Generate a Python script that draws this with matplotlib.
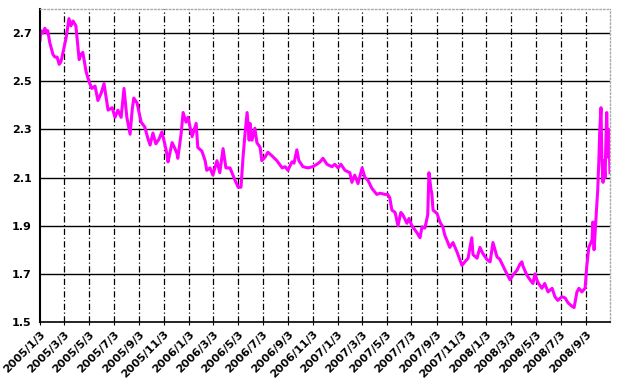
import numpy as np
import pandas as pd
import matplotlib
matplotlib.use("Agg")
import matplotlib.pyplot as plt
import matplotlib.dates as mdates

# a. series (date, value)
dates = [
    "2005-01-03", "2005-01-05", "2005-01-10", "2005-01-15", "2005-01-20", "2005-01-22",
    "2005-01-27", "2005-02-04", "2005-02-09", "2005-02-14", "2005-02-19", "2005-02-23",
    "2005-02-26", "2005-03-03", "2005-03-08", "2005-03-15", "2005-03-20", "2005-03-25",
    "2005-04-01", "2005-04-09", "2005-04-13", "2005-04-18", "2005-04-26", "2005-05-03",
    "2005-05-10", "2005-05-18", "2005-05-25", "2005-06-02", "2005-06-09", "2005-06-19",
    "2005-06-29", "2005-07-06", "2005-07-13", "2005-07-21", "2005-07-28", "2005-08-04",
    "2005-08-12", "2005-08-17", "2005-08-21", "2005-08-29", "2005-09-08", "2005-09-17",
    "2005-09-25", "2005-09-30", "2005-10-07", "2005-10-14", "2005-10-22", "2005-10-29",
    "2005-11-05", "2005-11-10", "2005-11-13", "2005-11-23", "2005-11-30", "2005-12-05",
    "2005-12-07", "2005-12-15", "2005-12-20", "2005-12-27", "2006-01-01", "2006-01-06",
    "2006-01-11", "2006-01-21", "2006-01-25", "2006-02-04", "2006-02-12", "2006-02-16",
    "2006-02-24", "2006-03-03", "2006-03-13", "2006-03-20", "2006-03-28", "2006-04-04",
    "2006-04-14", "2006-04-26", "2006-05-04", "2006-05-11", "2006-05-16", "2006-05-21",
    "2006-05-26", "2006-05-31", "2006-06-02", "2006-06-07", "2006-06-14", "2006-06-19",
    "2006-06-27", "2006-07-01", "2006-07-09", "2006-07-16", "2006-07-26", "2006-08-07",
    "2006-08-20", "2006-08-27", "2006-09-03", "2006-09-13", "2006-09-18", "2006-09-25",
    "2006-09-30", "2006-10-10", "2006-10-22", "2006-11-03", "2006-11-13", "2006-11-21",
    "2006-11-28", "2006-12-08", "2006-12-20", "2006-12-27", "2007-01-04", "2007-01-11",
    "2007-01-21", "2007-02-02", "2007-02-07", "2007-02-14", "2007-02-22", "2007-03-04",
    "2007-03-11", "2007-03-18", "2007-03-28", "2007-04-09", "2007-04-17", "2007-04-29",
    "2007-05-06", "2007-05-11", "2007-05-16", "2007-05-24", "2007-05-31", "2007-06-07",
    "2007-06-12", "2007-06-22", "2007-06-27", "2007-07-04", "2007-07-17", "2007-07-24",
    "2007-07-29", "2007-08-05", "2007-08-12", "2007-08-15", "2007-08-20", "2007-08-22",
    "2007-08-25", "2007-09-04", "2007-09-11", "2007-09-18", "2007-09-23", "2007-09-28",
    "2007-10-05", "2007-10-13", "2007-10-23", "2007-11-04", "2007-11-11", "2007-11-19",
    "2007-11-28", "2007-12-01", "2007-12-11", "2007-12-18", "2007-12-25", "2008-01-04",
    "2008-01-12", "2008-01-19", "2008-01-29", "2008-02-05", "2008-02-12", "2008-02-22",
    "2008-03-01", "2008-03-08", "2008-03-18", "2008-03-25", "2008-03-30", "2008-04-01",
    "2008-04-11", "2008-04-19", "2008-04-26", "2008-05-01", "2008-05-08", "2008-05-18",
    "2008-05-25", "2008-06-02", "2008-06-12", "2008-06-19", "2008-06-26", "2008-07-06",
    "2008-07-14", "2008-07-21", "2008-07-31", "2008-08-05", "2008-08-12", "2008-08-17",
    "2008-08-24", "2008-09-01", "2008-09-05", "2008-09-10", "2008-09-18", "2008-09-20",
    "2008-09-23", "2008-09-27", "2008-10-02", "2008-10-05", "2008-10-07", "2008-10-10",
    "2008-10-12", "2008-10-15", "2008-10-17", "2008-10-20", "2008-10-22", "2008-10-24",
    "2008-10-27", "2008-10-29", "2008-11-01",
]
values = [
    2.67, 2.71, 2.70, 2.72, 2.70, 2.71,
    2.66, 2.61, 2.60, 2.60, 2.57, 2.58,
    2.60, 2.64, 2.68, 2.76, 2.73, 2.75,
    2.73, 2.59, 2.61, 2.62, 2.54, 2.50,
    2.47, 2.48, 2.42, 2.45, 2.49, 2.38,
    2.39, 2.35, 2.38, 2.35, 2.47, 2.35,
    2.28, 2.38, 2.43, 2.41, 2.33, 2.31,
    2.26, 2.235, 2.285, 2.24, 2.26, 2.29,
    2.24, 2.20, 2.165, 2.245, 2.22, 2.20,
    2.18, 2.28, 2.37, 2.33, 2.35, 2.31,
    2.27, 2.325, 2.225, 2.21, 2.17, 2.13,
    2.14, 2.11, 2.17, 2.12, 2.22, 2.14,
    2.14, 2.09, 2.06, 2.06, 2.185, 2.285,
    2.37, 2.255, 2.325, 2.255, 2.305, 2.245,
    2.225, 2.17, 2.185, 2.205, 2.19, 2.17,
    2.14, 2.145, 2.13, 2.165, 2.16, 2.215,
    2.17, 2.145, 2.14, 2.145, 2.155, 2.165,
    2.18, 2.155, 2.145, 2.155, 2.14, 2.155,
    2.13, 2.12, 2.08, 2.11, 2.075, 2.14,
    2.10, 2.09, 2.055, 2.03, 2.035, 2.03,
    2.03, 2.015, 1.965, 1.955, 1.90, 1.955,
    1.945, 1.91, 1.93, 1.90, 1.87, 1.85,
    1.895, 1.89, 1.945, 2.12, 2.05, 2.035,
    1.965, 1.95, 1.915, 1.895, 1.86, 1.84,
    1.81, 1.83, 1.79, 1.735, 1.75, 1.765,
    1.85, 1.78, 1.765, 1.81, 1.785, 1.76,
    1.75, 1.83, 1.77, 1.76, 1.735, 1.70,
    1.675, 1.695, 1.715, 1.74, 1.75, 1.735,
    1.695, 1.675, 1.66, 1.70, 1.665, 1.64,
    1.66, 1.625, 1.64, 1.605, 1.59, 1.605,
    1.60, 1.58, 1.565, 1.56, 1.625, 1.64,
    1.625, 1.64, 1.73, 1.81, 1.84, 1.915,
    1.80, 1.91, 2.05, 2.185, 2.30, 2.39,
    2.185, 2.08, 2.17, 2.10, 2.25, 2.37,
    2.185, 2.30, 2.12,
]

# b. axis labels
tick_dates = pd.date_range("2005-01-01", "2008-09-01", freq="2MS") + pd.Timedelta(days=2)
tick_labels = [f"{d.year}/{d.month}/{d.day}" for d in tick_dates]
y_ticks = [1.5, 1.7, 1.9, 2.1, 2.3, 2.5, 2.7]

x = pd.to_datetime(dates)

fig = plt.figure(figsize=(6.28, 3.89), dpi=100)
ax = fig.add_axes([0.0637, 0.1722, 0.9076, 0.8047])

ax.plot(x, values, color="#ff00ff", linewidth=2.2, solid_joinstyle="round")

# c. limits and ticks
ax.set_xlim(pd.Timestamp("2005-01-03"), pd.Timestamp("2008-11-01"))
ax.set_ylim(1.5, 2.8)
ax.set_yticks(y_ticks)
ax.set_yticklabels([f"{v:.1f}" for v in y_ticks], fontsize=8, fontweight="bold")
ax.set_xticks(tick_dates)
ax.set_xticklabels(tick_labels, rotation=45, ha="right", rotation_mode="anchor",
                   fontsize=8, fontweight="bold")
ax.tick_params(axis="y", length=0, pad=6)
ax.tick_params(axis="x", length=2, pad=3)

# d. grid
for v in y_ticks[1:]:
    ax.axhline(v, color="black", linewidth=1.0, zorder=1)
for d in tick_dates[1:]:
    ax.axvline(d, color="black", linewidth=0.9, linestyle=(0, (5, 2, 1, 2)), zorder=1)

# e. frame
ax.spines["left"].set_color("black")
ax.spines["left"].set_linewidth(1.5)
ax.spines["bottom"].set_color("black")
ax.spines["bottom"].set_linewidth(1.2)
for s in ["top", "right"]:
    ax.spines[s].set_color("#aaaaaa")
    ax.spines[s].set_linestyle(":")
    ax.spines[s].set_linewidth(1.0)

fig.savefig("out.png", dpi=100)
